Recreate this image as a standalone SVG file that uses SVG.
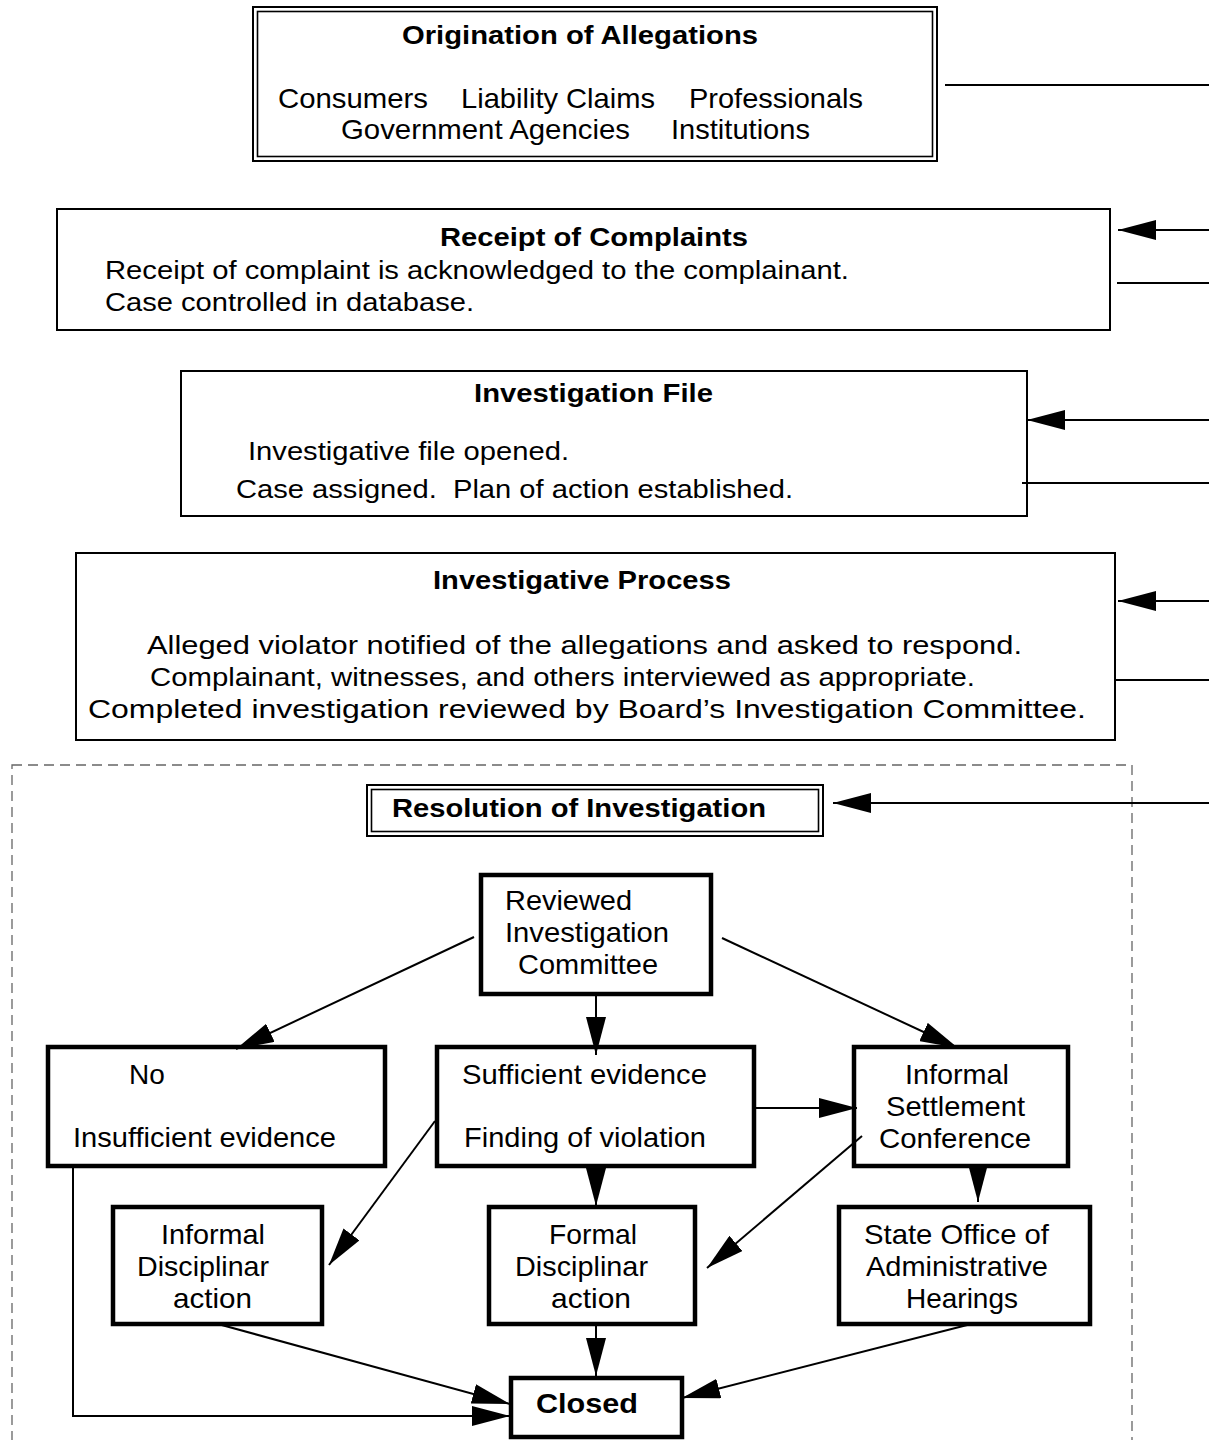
<svg xmlns="http://www.w3.org/2000/svg" width="1209" height="1440" viewBox="0 0 1209 1440">
<style>
text{font-family:"Liberation Sans",Arial,sans-serif;fill:#000}
.t{font-size:25px;font-weight:bold}
.b{font-size:25px}
.o{font-size:28px}
.n{font-size:28px}
.box{fill:#fff;stroke:#000;stroke-width:2}
.thick{fill:#fff;stroke:#000;stroke-width:4.5}
.ln{fill:none;stroke:#000;stroke-width:2}
.arr{fill:none;stroke:#000;stroke-width:2;marker-end:url(#ah)}
</style>
<defs>
<marker id="ah" viewBox="0 0 38 20" refX="38" refY="10" markerWidth="38" markerHeight="20" markerUnits="userSpaceOnUse" orient="auto">
<path d="M0,0 L38,10 L0,20 z" fill="#000"/>
</marker>
</defs>
<rect width="1209" height="1440" fill="#fff"/>

<g id="container">
<rect x="12" y="765" width="1120" height="690" fill="none" stroke="#666" stroke-width="1.3" stroke-dasharray="10,6"/>
</g>

<g id="origination">
<rect x="253" y="7" width="684" height="154" fill="#fff" stroke="#000" stroke-width="2"/>
<rect x="257.5" y="11.5" width="675" height="145" fill="none" stroke="#000" stroke-width="1.6"/>
<text class="t" x="402" y="44" textLength="356" lengthAdjust="spacingAndGlyphs">Origination of Allegations</text>
<text class="o" x="278" y="108" textLength="150" lengthAdjust="spacingAndGlyphs">Consumers</text>
<text class="o" x="461" y="108" textLength="194" lengthAdjust="spacingAndGlyphs">Liability Claims</text>
<text class="o" x="689" y="108" textLength="174" lengthAdjust="spacingAndGlyphs">Professionals</text>
<text class="o" x="341" y="139" textLength="289" lengthAdjust="spacingAndGlyphs">Government Agencies</text>
<text class="o" x="671" y="139" textLength="139" lengthAdjust="spacingAndGlyphs">Institutions</text>
</g>

<g id="receipt">
<rect class="box" x="57" y="209" width="1053" height="121"/>
<text class="t" x="440" y="246" textLength="308" lengthAdjust="spacingAndGlyphs">Receipt of Complaints</text>
<text class="b" x="105" y="279" textLength="744" lengthAdjust="spacingAndGlyphs">Receipt of complaint is acknowledged to the complainant.</text>
<text class="b" x="105" y="311" textLength="369" lengthAdjust="spacingAndGlyphs">Case controlled in database.</text>
</g>

<g id="investigation-file">
<rect class="box" x="181" y="371" width="846" height="145"/>
<text class="t" x="474" y="402" textLength="239" lengthAdjust="spacingAndGlyphs">Investigation File</text>
<text class="b" x="248" y="460" textLength="321" lengthAdjust="spacingAndGlyphs">Investigative file opened.</text>
<text class="b" x="236" y="498" textLength="557" lengthAdjust="spacingAndGlyphs" xml:space="preserve">Case assigned.  Plan of action established.</text>
</g>

<g id="investigative-process">
<rect class="box" x="76" y="553" width="1039" height="187"/>
<text class="t" x="433" y="589" textLength="298" lengthAdjust="spacingAndGlyphs">Investigative Process</text>
<text class="b" x="147" y="654" textLength="875" lengthAdjust="spacingAndGlyphs">Alleged violator notified of the allegations and asked to respond.</text>
<text class="b" x="150" y="686" textLength="825" lengthAdjust="spacingAndGlyphs">Complainant, witnesses, and others interviewed as appropriate.</text>
<text class="b" x="88" y="718" textLength="998" lengthAdjust="spacingAndGlyphs">Completed investigation reviewed by Board’s Investigation Committee.</text>
</g>

<g id="resolution">
<rect x="367" y="785" width="456" height="51" fill="#fff" stroke="#000" stroke-width="2"/>
<rect x="371.5" y="789.5" width="447" height="42" fill="none" stroke="#000" stroke-width="1.6"/>
<text class="t" style="font-size:26px" x="392" y="817" textLength="374" lengthAdjust="spacingAndGlyphs">Resolution of Investigation</text>
</g>

<g id="reviewed">
<rect class="thick" x="481" y="875" width="230" height="119"/>
<text class="n" x="505" y="910" textLength="127" lengthAdjust="spacingAndGlyphs">Reviewed</text>
<text class="n" x="505" y="942" textLength="164" lengthAdjust="spacingAndGlyphs">Investigation</text>
<text class="n" x="518" y="974" textLength="140" lengthAdjust="spacingAndGlyphs">Committee</text>
</g>

<g id="no">
<rect class="thick" x="48" y="1047" width="337" height="119"/>
<text class="n" x="129" y="1084">No</text>
<text class="n" x="73" y="1147" textLength="263" lengthAdjust="spacingAndGlyphs">Insufficient evidence</text>
</g>

<g id="sufficient">
<rect class="thick" x="437" y="1047" width="317" height="119"/>
<text class="n" x="462" y="1084" textLength="245" lengthAdjust="spacingAndGlyphs">Sufficient evidence</text>
<text class="n" x="464" y="1147" textLength="242" lengthAdjust="spacingAndGlyphs">Finding of violation</text>
</g>

<g id="settlement">
<rect class="thick" x="854" y="1047" width="214" height="119"/>
<text class="n" x="905" y="1084" textLength="104" lengthAdjust="spacingAndGlyphs">Informal</text>
<text class="n" x="886" y="1116" textLength="139" lengthAdjust="spacingAndGlyphs">Settlement</text>
<text class="n" x="879" y="1148" textLength="152" lengthAdjust="spacingAndGlyphs">Conference</text>
</g>

<g id="informal-disciplinar">
<rect class="thick" x="113" y="1207" width="209" height="117"/>
<text class="n" x="161" y="1244" textLength="104" lengthAdjust="spacingAndGlyphs">Informal</text>
<text class="n" x="137" y="1276" textLength="132" lengthAdjust="spacingAndGlyphs">Disciplinar</text>
<text class="n" x="173" y="1308" textLength="79" lengthAdjust="spacingAndGlyphs">action</text>
</g>

<g id="formal-disciplinar">
<rect class="thick" x="489" y="1207" width="206" height="117"/>
<text class="n" x="549" y="1244" textLength="88" lengthAdjust="spacingAndGlyphs">Formal</text>
<text class="n" x="515" y="1276" textLength="133" lengthAdjust="spacingAndGlyphs">Disciplinar</text>
<text class="n" x="551" y="1308" textLength="80" lengthAdjust="spacingAndGlyphs">action</text>
</g>

<g id="state-office">
<rect class="thick" x="839" y="1207" width="251" height="117"/>
<text class="n" x="864" y="1244" textLength="185" lengthAdjust="spacingAndGlyphs">State Office of</text>
<text class="n" x="866" y="1276" textLength="182" lengthAdjust="spacingAndGlyphs">Administrative</text>
<text class="n" x="906" y="1308" textLength="112" lengthAdjust="spacingAndGlyphs">Hearings</text>
</g>

<g id="closed">
<rect class="thick" x="511" y="1378" width="171" height="59"/>
<text class="t" style="font-size:28px" x="536" y="1413" textLength="102" lengthAdjust="spacingAndGlyphs">Closed</text>
</g>

<g id="connectors">
<line class="ln" x1="945" y1="85" x2="1209" y2="85"/>
<line class="arr" x1="1209" y1="230" x2="1118" y2="230"/>
<line class="ln" x1="1117" y1="283" x2="1209" y2="283"/>
<line class="arr" x1="1209" y1="420" x2="1027" y2="420"/>
<line class="ln" x1="1022" y1="483" x2="1209" y2="483"/>
<line class="arr" x1="1209" y1="601" x2="1118" y2="601"/>
<line class="ln" x1="1116" y1="680" x2="1209" y2="680"/>
<line class="arr" x1="1209" y1="803" x2="833" y2="803"/>

<line class="arr" x1="474" y1="937" x2="236" y2="1049"/>
<line class="arr" x1="596" y1="992" x2="596" y2="1055"/>
<line class="arr" x1="722" y1="938" x2="958" y2="1048"/>
<line class="arr" x1="755" y1="1108" x2="857" y2="1108"/>
<line class="arr" x1="435" y1="1121" x2="329" y2="1265"/>
<line class="arr" x1="596" y1="1166" x2="596" y2="1206"/>
<line class="arr" x1="862" y1="1136" x2="707" y2="1268"/>
<line class="arr" x1="978" y1="1164" x2="978" y2="1202"/>
<line class="arr" x1="218" y1="1324" x2="510" y2="1404"/>
<line class="arr" x1="596" y1="1324" x2="596" y2="1376"/>
<line class="arr" x1="975" y1="1323" x2="682" y2="1398"/>
<polyline class="arr" points="73,1166 73,1416 510,1416"/>
</g>
</svg>
